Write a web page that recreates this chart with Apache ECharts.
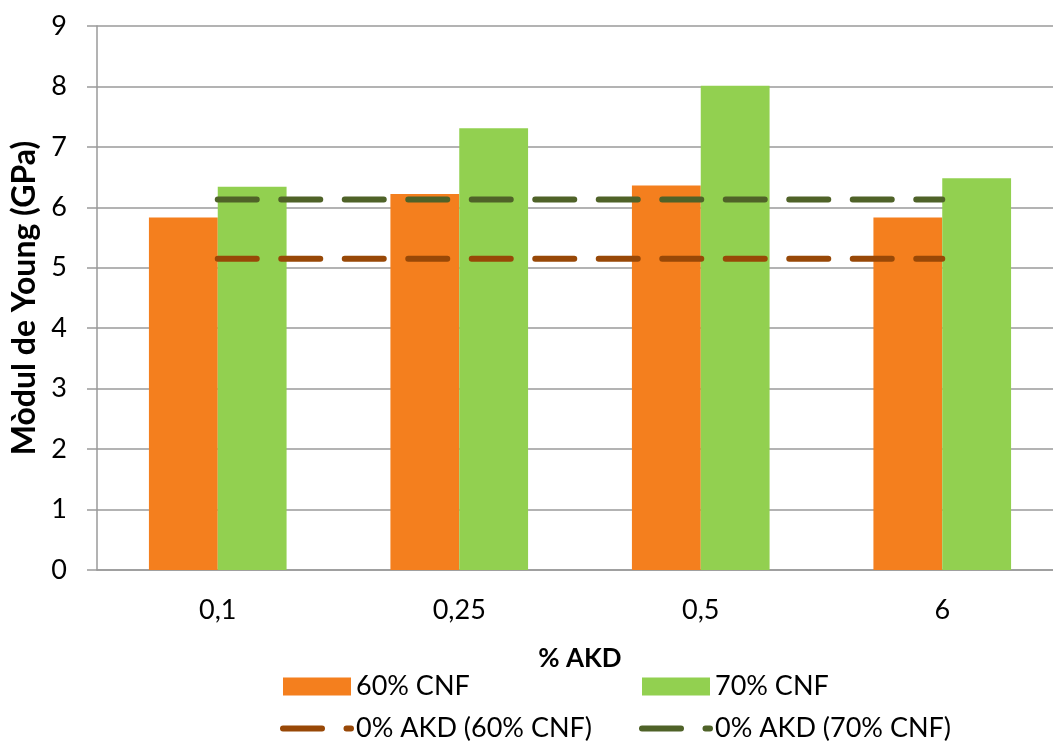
<!DOCTYPE html>
<html><head><meta charset="utf-8">
<script src="https://cdn.jsdelivr.net/npm/echarts@6/dist/echarts.min.js"></script>
<style>html,body{margin:0;padding:0;background:#fff}#c{width:1053px;height:742px}</style>
</head><body><div id="c"></div>
<script>
const categories = ['0,1', '0,25', '0,5', '6'];
const cnf60 = [5.83, 6.22, 6.36, 5.83];
const cnf70 = [6.34, 7.31, 8.01, 6.48];
const ref60 = [5.15, 5.15, 5.15, 5.15];
const ref70 = [6.13, 6.13, 6.13, 6.13];
const names = ['60% CNF', '70% CNF', '0% AKD (60% CNF)', '0% AKD (70% CNF)'];
const FONT = 'Lato';
const dash = [39, 24.5];

const chart = echarts.init(document.getElementById('c'));
const lineLegend = (name, c) => ({
  name: name,
  lineStyle: { width: 6, type: dash, cap: 'round', color: c },
  itemStyle: { color: 'rgba(0,0,0,0)', borderWidth: 0, opacity: 0 }
});
const legendBase = { orient: 'vertical', top: 673, padding: 0, itemWidth: 68, itemHeight: 18, itemGap: 15,
  textStyle: { fontSize: 27, color: '#000', fontFamily: FONT } };
chart.setOption({
  animation: false,
  textStyle: { fontFamily: FONT },
  grid: { left: 97, top: 26, width: 966, bottom: 172, containLabel: false, outerBoundsMode: 'none' },
  legend: [
    Object.assign({}, legendBase, { left: 280, data: [{ name: names[0], icon: 'rect' }, lineLegend(names[2], '#984807')] }),
    Object.assign({}, legendBase, { left: 639, data: [{ name: names[1], icon: 'rect' }, lineLegend(names[3], '#4F6228')] })
  ],
  xAxis: {
    type: 'category', data: categories, boundaryGap: true,
    name: '% AKD', nameLocation: 'middle', nameGap: 76,
    nameTextStyle: { fontSize: 26, fontWeight: 'bold', color: '#000', fontFamily: FONT },
    axisLine: { lineStyle: { color: '#9A9A9A', width: 1.5 } },
    axisTick: { show: false },
    axisLabel: { fontSize: 27, color: '#000', margin: 27, fontFamily: FONT }
  },
  yAxis: {
    type: 'value', min: 0, max: 9, interval: 1,
    name: 'Mòdul de Young (GPa)', nameLocation: 'middle', nameGap: 52,
    nameTextStyle: { fontSize: 32, fontWeight: 'bold', color: '#000', fontFamily: FONT },
    axisLine: { show: true, lineStyle: { color: '#9A9A9A', width: 1.5 } },
    axisTick: { show: true, length: 10, lineStyle: { color: '#9A9A9A', width: 1.5 } },
    splitLine: { lineStyle: { color: '#9A9A9A', width: 1.5 } },
    axisLabel: { fontSize: 27, color: '#000', margin: 30, fontFamily: FONT }
  },
  series: [
    { name: names[0], type: 'bar', data: cnf60, itemStyle: { color: '#F47F1E' }, barGap: '0%', barCategoryGap: '43%' },
    { name: names[1], type: 'bar', data: cnf70, itemStyle: { color: '#92D050' } },
    { name: names[2], type: 'line', data: ref60, symbol: 'none', z: 5,
      lineStyle: { color: '#984807', width: 6, type: dash, cap: 'round' }, itemStyle: { color: '#984807' } },
    { name: names[3], type: 'line', data: ref70, symbol: 'none', z: 5,
      lineStyle: { color: '#4F6228', width: 6, type: dash, cap: 'round' }, itemStyle: { color: '#4F6228' } }
  ]
});
</script></body></html>
